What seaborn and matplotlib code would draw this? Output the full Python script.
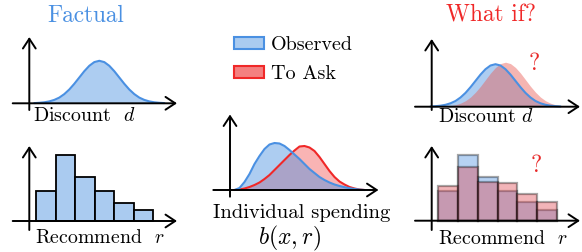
import matplotlib
matplotlib.use("Agg")
import matplotlib.pyplot as plt
import seaborn as sns
from matplotlib.patches import Patch

# ---------------- data ----------------
# discount density (schematic), sample positions and heights
discount_x = [5, 10, 15, 20, 25, 30, 35, 40, 45, 50, 55, 60, 65, 70, 75, 80, 85, 90,
              95, 100, 105, 110, 115, 120, 125, 130, 135]
discount_observed = [0.2, 0.5, 1.0, 1.9, 3.4, 5.7, 9.2, 13.8, 19.5, 25.8, 32.1, 37.5, 41.2,
                     42.5, 41.2, 37.5, 32.1, 25.8, 19.5, 13.8, 9.2, 5.7, 3.4, 1.9, 1.0, 0.5, 0.2]
discount_ask_x = [15, 20, 25, 30, 35, 40, 45, 50, 55, 60, 65, 70, 75, 80, 85, 90, 95, 100,
                  105, 110, 115, 120, 125, 130, 135, 140, 145]
discount_to_ask = [0.2, 0.5, 1.0, 2.0, 3.5, 6.0, 9.6, 14.5, 20.4, 27.0, 33.6, 39.2, 43.1,
                   44.5, 43.1, 39.2, 33.6, 27.0, 20.4, 14.5, 9.6, 6.0, 3.5, 2.0, 1.0, 0.5, 0.2]

# individual spending density b(x, r)
spend_x = [5, 10, 15, 20, 25, 30, 35, 40, 45, 50, 55, 60, 65, 70, 75, 80, 85, 90, 95,
           100, 105, 110, 115, 120, 125, 130, 135]
spend_observed = [0, 2, 8, 16, 26, 34, 41, 45.5, 47, 46.5, 44, 40, 35.5, 31, 26, 21, 17,
                  13, 10, 7.5, 5.5, 4, 2.8, 1.8, 1, 0.4, 0]
spend_to_ask = [0, 0.5, 1.5, 3, 5, 7.5, 11, 15, 20, 25, 30, 35, 39.5, 43.5, 44, 42.5, 39,
                33, 26, 19, 13, 8.5, 5.5, 3, 1.5, 0.5, 0]

# recommendation histogram
recommend_levels = [1, 2, 3, 4, 5, 6]
recommend_observed = [30, 66, 44, 30, 18.5, 11]
recommend_to_ask = [34.7, 54, 38.7, 38, 26.7, 18.7]

titles = ["Factual", "What if?"]
legend_labels = ["Observed", "To Ask"]

# ---------------- style ----------------
sns.set_theme(style="white")
plt.rcParams["font.family"] = ["cmr10", "DejaVu Serif"]
plt.rcParams["mathtext.fontset"] = "cm"
plt.rcParams["axes.unicode_minus"] = False

BLUE = "#4a90e2"
RED = "#f02828"
RED2 = (0.92, 0.36, 0.33)
RED3 = (0.88, 0.27, 0.31)
EDGE_D = (0, 0, 0, 0.35)

W, H = 582, 252
fig = plt.figure(figsize=(W / 100, H / 100), dpi=100)

panels = []


def panel_axes(x0_px, x_scale, base_px):
    ax = fig.add_axes([0, 0, 1, 1])
    panels.append((ax, x0_px, x_scale, base_px))
    return ax


def finish(ax, x0_px, x_scale, base_px):
    ax.set_xlim((0 - x0_px) / x_scale, (W - x0_px) / x_scale)
    ax.set_ylim(-(H - base_px), base_px)
    ax.axis("off")
    ax.patch.set_alpha(0)


# Panel A: factual discount
axA = panel_axes(29.3, 1.0, 103.3)
axA.fill_between(discount_x, discount_observed, 0, color=BLUE, alpha=0.45, linewidth=0)
sns.lineplot(x=discount_x, y=discount_observed, ax=axA, color=BLUE, linewidth=1.5)

# Panel B: factual recommend
axB = panel_axes(45.8 - 19.55, 19.55, 221)
sns.barplot(x=recommend_levels, y=recommend_observed, native_scale=True, width=1.0,
            errorbar=None, ax=axB, facecolor="#aacbf0", edgecolor="black", linewidth=1.3)

# Panel E: individual spending
axE = panel_axes(229.5, 1.0, 190)
axE.fill_between(spend_x, spend_to_ask, 0, color=RED, alpha=0.35, linewidth=0)
sns.lineplot(x=spend_x, y=spend_to_ask, ax=axE, color=RED, linewidth=1.5)
axE.fill_between(spend_x, spend_observed, 0, color=BLUE, alpha=0.45, linewidth=0)
sns.lineplot(x=spend_x, y=spend_observed, ax=axE, color=BLUE, linewidth=1.5)

# Panel C: what-if discount
axC = panel_axes(425.5, 1.0, 106.7)
axC.fill_between(discount_x, discount_observed, 0, color=BLUE, alpha=0.45, linewidth=0)
sns.lineplot(x=discount_x, y=discount_observed, ax=axC, color=BLUE, linewidth=1.5)
axC.fill_between(discount_ask_x, discount_to_ask, 0, color=RED2, alpha=0.45, linewidth=0)

# Panel D: what-if recommend
axD = panel_axes(448.2 - 19.73, 19.73, 220.7)
sns.barplot(x=recommend_levels, y=recommend_observed, native_scale=True, width=1.0,
            errorbar=None, ax=axD, facecolor=(0.29, 0.565, 0.886, 0.4),
            edgecolor=EDGE_D, linewidth=1.6)
sns.barplot(x=recommend_levels, y=recommend_to_ask, native_scale=True, width=1.0,
            errorbar=None, ax=axD, facecolor=(*RED3, 0.4),
            edgecolor=EDGE_D, linewidth=1.6)

for p in panels:
    finish(*p)

# ---------------- overlay: axes arrows, texts, legend ----------------
ov = fig.add_axes([0, 0, 1, 1])
ov.set_xlim(0, W)
ov.set_ylim(H, 0)
ov.axis("off")
ov.patch.set_alpha(0)

arrow_kw = dict(arrowstyle="->,head_length=0.7,head_width=0.46", lw=1.4, color="black",
                shrinkA=0, shrinkB=0, mutation_scale=10)


def axis_arrows(ox, oy, ybot, ytop, xleft, xright):
    ov.annotate("", xy=(ox, ytop), xytext=(ox, ybot), arrowprops=arrow_kw)
    ov.annotate("", xy=(xright, oy), xytext=(xleft, oy), arrowprops=arrow_kw)


axis_arrows(29.3, 103.3, 110, 37, 12.7, 177)
axis_arrows(29.3, 221, 230, 146, 12.7, 177)
axis_arrows(230, 190, 196.7, 114.5, 213.3, 378.5)
axis_arrows(431.7, 106.7, 110, 39, 415, 580)
axis_arrows(431.7, 220.7, 230, 146, 415, 580)

ov.text(86, 21.7, titles[0], fontsize=16.8, color=BLUE, ha="center", va="baseline")
ov.text(490.5, 21.5, titles[1], fontsize=16.8, color="#f02828", ha="center", va="baseline")

lab = 14.3
ov.text(33, 120.7, r"Discount  $d$", fontsize=lab, ha="left", va="baseline", color="black")
ov.text(35, 243, r"Recommend  $r$", fontsize=lab, ha="left", va="baseline", color="black")
ov.text(301.7, 218.5, "Individual spending", fontsize=14.8, ha="center", va="baseline",
        color="black")
ov.text(289, 244, r"$b(x,r)$", fontsize=17, ha="center", va="baseline", color="black")
ov.text(438, 122, r"Discount $d$", fontsize=lab, ha="left", va="baseline", color="black")
ov.text(438, 244, r"Recommend  $r$", fontsize=lab, ha="left", va="baseline", color="black")
ov.text(534, 70, "?", fontsize=17, color="#e82828", ha="center", va="baseline")
ov.text(536.5, 171.5, "?", fontsize=17, color="#e82828", ha="center", va="baseline")

handles = [Patch(facecolor="#aacbf0", edgecolor=BLUE, linewidth=1.5),
           Patch(facecolor="#f48080", edgecolor=RED, linewidth=1.5)]
ov.legend(handles, legend_labels, loc="upper left", bbox_to_anchor=(234, 36),
          bbox_transform=ov.transData, frameon=False, borderpad=0, borderaxespad=0,
          handlelength=1.5, handleheight=0.5, handletextpad=0.35, labelspacing=0.55,
          labelcolor="black", prop={"family": "cmr10", "size": 14.5})

fig.savefig("out.png", dpi=100)
